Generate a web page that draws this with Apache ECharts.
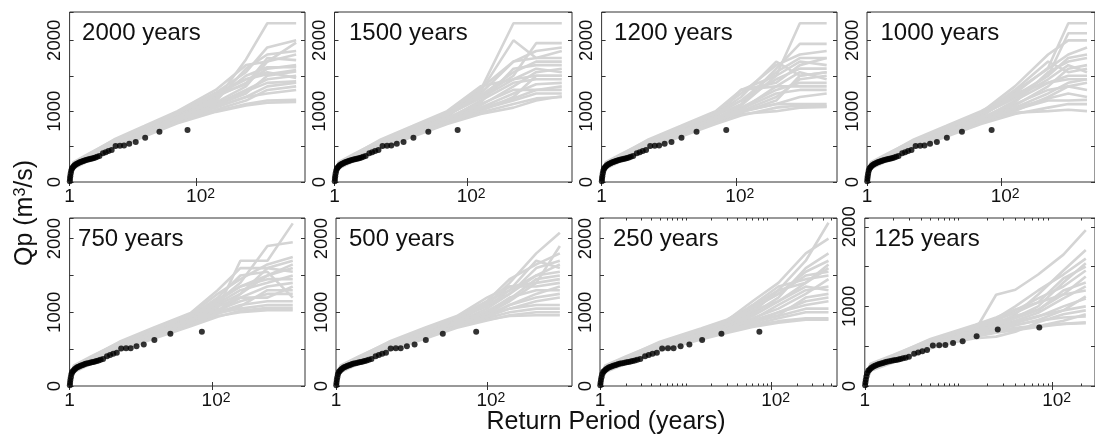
<!DOCTYPE html>
<html><head><meta charset="utf-8">
<script src="https://cdn.jsdelivr.net/npm/echarts@6/dist/echarts.min.js"></script>
<style>html,body{margin:0;padding:0;background:#fff}#c{width:1095px;height:435px}</style>
</head><body><div id="c"></div>
<script>
// ---------------- data ----------------
const panelTitles = ['2000 years','1500 years','1200 years','1000 years','750 years','500 years','250 years','125 years'];
const xMax = [5100, 3820, 3220, 2500, 2020, 1340, 578, 282];
const yMax = [2400, 2400, 2400, 2400, 2280, 2280, 2280, 2110];
const xMajorTicks = [1, 100];
const xMinorTicks = [2,3,4,5,6,7,8,9,10,20,30,40,50,60,70,80,90,200,300,400,500];
const yTickStep = 500;

// observed annual maxima (return period, Qp)
const obsT = [72, 26, 15.5, 11, 8.7, 7.2, 6.2, 5.3, 4.6, 4.1, 3.7, 3.35, 2.95, 2.72, 2.55, 2.4, 2.28, 2.15, 2.04, 1.93, 1.82, 1.72, 1.64, 1.56, 1.49, 1.42, 1.36, 1.30, 1.25, 1.20, 1.16, 1.12, 1.09, 1.06, 1.04, 1.025, 1.015, 1.008];
const obsQ = [735, 710, 625, 563, 540, 514, 512, 510, 452, 436, 420, 405, 366, 356, 347, 340, 332, 327, 322, 316, 310, 304, 297, 290, 283, 275, 266, 257, 247, 235, 222, 205, 190, 160, 120, 80, 45, 10];

// simulated frequency curves, one array of return periods per panel, one Qp row per curve
const simT2000 = [1, 1.15, 2, 5, 15, 50, 200, 600, 1300, 3700];
const simQ2000 = [
 [10,200,320,500,660,850,1000,1100,1150,1160],
 [30,230,340,520,690,880,1050,1200,1350,1400],
 [20,220,335,530,700,900,1100,1300,1450,1500],
 [40,240,350,540,720,920,1150,1730,2241,2241],
 [15,210,330,510,680,870,1080,1250,1500,1560],
 [50,250,360,550,740,940,1200,1400,1600,1650],
 [25,225,345,525,705,895,1120,1350,1700,1967],
 [35,235,355,545,730,930,1180,1500,1620,1620],
 [5,195,315,505,670,860,1020,1150,1300,1350],
 [45,245,365,560,750,950,1250,1450,1550,1470],
 [20,215,340,515,695,890,1090,1280,1400,1420],
 [30,228,348,535,715,910,1140,1600,1800,1850],
 [10,205,325,495,665,865,1060,1200,1250,1300],
 [55,255,370,565,760,960,1220,1380,1750,1720],
 [60,280,400,590,780,980,1260,1550,1900,2000],
 [65,270,390,600,790,1000,1300,1650,1700,1800],
 [0,190,300,480,640,830,990,1080,1120,1130],
 [45,260,380,580,770,970,1230,1450,1520,1580]
];
const simT1500 = [1, 1.15, 2, 5, 15, 50, 160, 500, 1100, 2680];
const simQ1500 = [
 [10,200,320,500,660,840,980,1100,1180,1200],
 [30,230,340,520,690,870,1020,1150,1250,1250],
 [20,220,335,530,700,890,1100,1300,1300,1350],
 [40,240,350,540,720,920,1300,2241,2241,2241],
 [15,210,330,510,680,860,1050,1250,1380,1400],
 [50,250,360,550,740,940,1200,1500,1960,1960],
 [25,225,345,525,705,885,1150,1400,1450,1450],
 [35,235,355,545,730,930,1250,1700,1750,1850],
 [5,195,315,505,670,850,1000,1200,1500,1500],
 [45,245,365,560,750,950,1180,1450,1600,1550],
 [20,215,340,515,695,880,1080,1350,1550,1600],
 [30,228,348,535,715,905,1120,1600,1650,1650],
 [10,205,325,495,665,855,1040,1180,1300,1300],
 [55,255,370,565,760,960,1280,2000,1750,1750],
 [60,280,400,590,780,980,1320,1700,1850,1900],
 [65,270,390,600,790,1000,1350,1450,1500,1500],
 [0,190,300,480,640,820,960,1050,1150,1210],
 [45,260,380,580,770,970,1220,1550,1700,1700]
];
const simT1200 = [1, 1.15, 2, 5, 15, 50, 120, 400, 900, 2260];
const simQ1200 = [
 [10,200,320,500,660,840,960,1000,1050,1060],
 [30,230,340,520,690,870,1000,1100,1200,1250],
 [20,220,335,530,700,890,1050,1300,1400,1400],
 [40,240,350,540,720,920,1300,1500,2241,2241],
 [15,210,330,510,680,860,1000,1200,1450,1500],
 [50,250,360,550,740,940,1100,1600,1950,1950],
 [25,225,345,525,705,885,1030,1250,1300,1300],
 [35,235,355,545,730,930,1300,1400,1650,1750],
 [5,195,315,505,670,850,980,1150,1500,1550],
 [45,245,365,560,750,950,1150,1450,1600,1600],
 [20,215,340,515,695,880,1020,1350,1550,1450],
 [30,228,348,535,715,905,1080,1500,1700,1650],
 [10,205,325,495,665,855,990,1100,1100,1100],
 [55,255,370,565,760,960,1200,1700,1500,1550],
 [60,280,400,590,780,980,1250,1650,1800,1850],
 [65,270,390,600,790,1000,1300,1350,1350,1350],
 [0,190,300,480,640,820,940,1050,1080,1070],
 [45,260,380,580,770,970,1150,1550,1750,1750]
];
const simT1000 = [1, 1.15, 2, 5, 15, 50, 160, 500, 1000, 1900];
const simQ1000 = [
 [10,200,320,500,660,840,980,1000,1020,1000],
 [30,230,340,520,690,870,1020,1150,1150,1160],
 [20,220,335,530,700,890,1100,1300,1350,1300],
 [40,240,350,540,720,920,1250,1613,2241,2241],
 [15,210,330,510,680,860,1050,1250,1400,1450],
 [50,250,360,550,740,940,1200,1500,2100,2100],
 [25,225,345,525,705,885,1150,1400,1500,1500],
 [35,235,355,545,730,930,1280,1600,1800,1900],
 [5,195,315,505,670,850,1000,1200,1350,1400],
 [45,245,365,560,750,950,1180,1450,1650,1550],
 [20,215,340,515,695,880,1080,1350,1600,1650],
 [30,228,348,535,715,905,1120,1550,1700,1750],
 [10,205,325,495,665,855,1040,1180,1250,1200],
 [55,255,370,565,760,960,1300,1700,1550,1600],
 [60,280,400,590,780,980,1350,1800,2000,2000],
 [65,270,390,600,790,1000,1250,1400,1450,1450],
 [0,190,300,480,640,820,960,1050,1100,1100],
 [45,260,380,580,770,970,1220,1500,1750,1800]
];
const simT750 = [1, 1.15, 2, 5, 15, 50, 120, 250, 600, 1360];
const simQ750 = [
 [10,200,320,500,660,830,950,1000,1030,1030],
 [30,230,340,520,690,860,1000,1100,1150,1150],
 [20,220,335,530,700,880,1050,1700,1700,2207],
 [40,240,350,540,720,910,1100,1250,1500,1600],
 [15,210,330,510,680,850,1000,1200,1350,1400],
 [50,250,360,550,740,930,1150,1400,1900,1950],
 [25,225,345,525,705,875,1030,1150,1250,1250],
 [35,235,355,545,730,920,1120,1300,1400,1500],
 [5,195,315,505,670,840,980,1080,1300,1300],
 [45,245,365,560,750,940,1180,1350,1450,1450],
 [20,215,340,515,695,870,1020,1250,1600,1700],
 [30,228,348,535,715,895,1080,1200,1200,1350],
 [10,205,325,495,665,845,990,1050,1100,1100],
 [55,255,370,565,760,950,1200,1500,1550,1200],
 [60,280,400,590,780,970,1250,1450,1650,1750],
 [65,270,390,600,790,990,1300,1600,1600,1550],
 [0,190,300,480,640,810,940,1020,1060,1060],
 [45,260,380,580,770,960,1150,1350,1500,1650]
];
const simT500 = [1, 1.15, 2, 5, 15, 40, 100, 200, 450, 925];
const simQ500 = [
 [10,200,320,500,660,800,900,950,960,960],
 [30,230,340,520,690,830,950,1050,1100,1100],
 [20,220,335,530,700,850,1000,1200,1300,1300],
 [40,240,350,540,720,880,1100,1400,1800,2080],
 [15,210,330,510,680,820,930,1100,1200,1250],
 [50,250,360,550,740,900,1150,1300,1500,1550],
 [25,225,345,525,705,845,980,1150,1400,1450],
 [35,235,355,545,730,870,1050,1250,1600,1700],
 [5,195,315,505,670,810,920,1000,1050,1050],
 [45,245,365,560,750,910,1120,1350,1400,1900],
 [20,215,340,515,695,840,960,1100,1250,1350],
 [30,228,348,535,715,860,1020,1180,1450,1500],
 [10,205,325,495,665,815,940,1050,1150,1200],
 [55,255,370,565,760,920,1080,1300,1700,1600],
 [60,280,400,590,780,940,1150,1450,1650,1800],
 [65,270,390,600,790,950,1200,1350,1350,1400],
 [0,190,300,480,640,790,890,960,1000,1000],
 [45,260,380,580,770,930,1100,1250,1500,1650]
];
const simT250 = [1, 1.15, 2, 5, 15, 30, 60, 120, 250, 460];
const simQ250 = [
 [10,200,320,500,650,740,820,880,920,920],
 [30,230,340,520,680,770,870,950,1050,1050],
 [20,220,335,530,690,790,900,1100,1300,1350],
 [40,240,350,540,710,820,1000,1300,1700,2216],
 [15,210,330,510,670,760,850,1000,1150,1200],
 [50,250,360,550,730,840,1050,1250,1500,1550],
 [25,225,345,525,695,800,920,1050,1250,1450],
 [35,235,355,545,720,830,980,1200,1600,1800],
 [5,195,315,505,660,750,830,920,1000,1000],
 [45,245,365,560,740,850,1020,1150,1350,1300],
 [20,215,340,515,685,780,890,1000,1100,1150],
 [30,228,348,535,705,810,950,1150,1400,1650],
 [10,205,325,495,655,745,860,960,1200,1250],
 [55,255,370,565,750,870,1100,1350,1450,1500],
 [60,280,400,590,770,890,1150,1400,1800,2000],
 [65,270,390,600,780,900,1080,1300,1400,1600],
 [0,190,300,480,630,720,800,860,900,900],
 [45,260,380,580,760,880,1060,1250,1550,1700]
];
const simT125 = [1, 1.15, 2, 5, 15, 25, 40, 70, 130, 225];
const simQ125 = [
 [10,200,310,490,640,690,730,760,780,790],
 [30,230,335,515,670,720,770,820,860,875],
 [20,220,330,525,685,740,800,880,950,1000],
 [40,240,345,535,700,1146,1209,1400,1650,1959],
 [15,210,325,505,660,710,760,830,950,1125],
 [50,250,355,545,720,780,860,1000,1300,1542],
 [25,225,340,520,680,740,820,920,1100,1250],
 [35,235,350,540,710,770,900,1150,1450,1709],
 [5,195,305,485,630,680,720,750,820,900],
 [45,245,360,555,730,800,880,960,1150,1375],
 [20,215,330,510,675,730,790,870,1000,1100],
 [30,228,343,530,695,760,850,950,1200,1300],
 [10,205,320,495,600,620,680,800,900,950],
 [55,255,365,560,740,820,950,1100,1250,1450],
 [60,280,390,580,760,850,1000,1200,1400,1600],
 [65,270,380,590,770,860,960,1050,1150,1200],
 [0,190,295,475,620,670,700,740,780,800],
 [45,260,370,570,750,830,920,1050,1350,1500]
];

// ---------------- layout ----------------
const FONT = '"Liberation Sans", Arial, Helvetica, sans-serif';
const TXT = '#111';
const AX = '#333';
const simT = [simT2000, simT1500, simT1200, simT1000, simT750, simT500, simT250, simT125];
const simQ = [simQ2000, simQ1500, simQ1200, simQ1000, simQ750, simQ500, simQ250, simQ125];
const boxes = [
  [69.6, 12, 235.4, 170], [334.5, 12, 237.5, 170], [601.6, 12, 235.4, 170], [867, 12, 235, 170],
  [69.6, 218, 235.4, 168], [336, 218, 236, 168], [600, 218, 237, 168], [864.8, 218, 235, 168]
];
const titleOffset = [12.5, 14.5, 12.5, 13.5, 8.5, 13, 13, 9.5];
const minorPanels = [6, 7];

const grids = [], xAxes = [], yAxes = [], series = [], graphics = [];
const tickLine = { color: AX, width: 1 };

boxes.forEach((b, i) => {
  grids.push({ left: b[0], top: b[1], width: b[2], height: b[3], show: true,
    borderColor: AX, borderWidth: 1, backgroundColor: 'transparent' });
  const base = { gridIndex: i, type: 'log', logBase: 10, min: 1, max: xMax[i],
    axisLine: { show: false }, splitLine: { show: false }, minorTick: { show: false } };
  const xi = xAxes.length;
  xAxes.push(Object.assign({}, base, { position: 'bottom',
    axisTick: { show: true, inside: true, length: 4, customValues: xMajorTicks, lineStyle: tickLine },
    axisLabel: { show: true, customValues: xMajorTicks, margin: 5, color: TXT, fontFamily: FONT, fontSize: 19,
      formatter: v => (Math.abs(v - 1) < 1e-9 ? '{a|1}' : '{b|10}{s|2}'),
      rich: { a: { fontSize: 19, fontFamily: FONT, color: TXT },
              b: { fontSize: 19, fontFamily: FONT, color: TXT, padding: [0, 0, 0, 8] },
              s: { fontSize: 14, fontFamily: FONT, color: TXT, verticalAlign: 'top', lineHeight: 13 } } } }));
  xAxes.push(Object.assign({}, base, { position: 'top',
    axisTick: { show: true, inside: true, length: 4, customValues: xMajorTicks, lineStyle: tickLine },
    axisLabel: { show: false } }));
  if (minorPanels.indexOf(i) >= 0) {
    const mv = xMinorTicks.filter(v => v < xMax[i]);
    ['bottom', 'top'].forEach(p => xAxes.push(Object.assign({}, base, { position: p,
      axisTick: { show: true, inside: true, length: 2.5, customValues: mv, lineStyle: tickLine },
      axisLabel: { show: false } })));
  }
  const ybase = { gridIndex: i, type: 'value', min: 0, max: yMax[i], interval: yTickStep,
    axisLine: { show: false }, splitLine: { show: false } };
  const yi = yAxes.length;
  yAxes.push(Object.assign({}, ybase, { position: 'left',
    axisTick: { show: true, inside: true, length: 4, lineStyle: tickLine },
    axisLabel: { show: true, rotate: 90, margin: 5, color: TXT, fontFamily: FONT, fontSize: 18.5,
      formatter: v => (v % 1000 === 0 ? String(v) : '') } }));
  yAxes.push(Object.assign({}, ybase, { position: 'right',
    axisTick: { show: true, inside: true, length: 4, lineStyle: tickLine },
    axisLabel: { show: false } }));

  simQ[i].forEach(row => {
    series.push({ type: 'line', xAxisIndex: xi, yAxisIndex: yi,
      data: simT[i].map((t, k) => [t, row[k]]),
      symbol: 'none', showSymbol: false, silent: true, z: 1,
      lineStyle: { color: '#d4d4d4', width: 2.6 } });
  });
  series.push({ type: 'scatter', xAxisIndex: xi, yAxisIndex: yi,
    data: obsT.map((t, k) => [t, obsQ[k]]), symbolSize: 6, clip: false, silent: true, z: 3,
    itemStyle: { color: '#000' } });

  graphics.push({ type: 'text', x: b[0] + titleOffset[i], y: b[1] + 21.5, z: 10,
    style: { text: panelTitles[i], fontSize: 24, fontFamily: FONT, fill: TXT, verticalAlign: 'middle', align: 'left' } });
});

graphics.push({ type: 'text', x: 606, y: 422, z: 10,
  style: { text: 'Return Period (years)', fontSize: 25, fontFamily: FONT, fill: TXT, align: 'center', verticalAlign: 'middle' } });
graphics.push({ type: 'text', x: 25, y: 213, rotation: Math.PI / 2, z: 10,
  style: { text: 'Qp (m{s|3}/s)', fontSize: 25, fontFamily: FONT, fill: TXT, align: 'center', verticalAlign: 'middle',
    rich: { s: { fontSize: 16, fontFamily: FONT, fill: TXT, verticalAlign: 'top', lineHeight: 16 } } } });

const chart = echarts.init(document.getElementById('c'), null, { renderer: 'canvas' });
chart.setOption({ animation: false, backgroundColor: '#fff', grid: grids, xAxis: xAxes, yAxis: yAxes, series: series, graphic: graphics });
</script></body></html>
